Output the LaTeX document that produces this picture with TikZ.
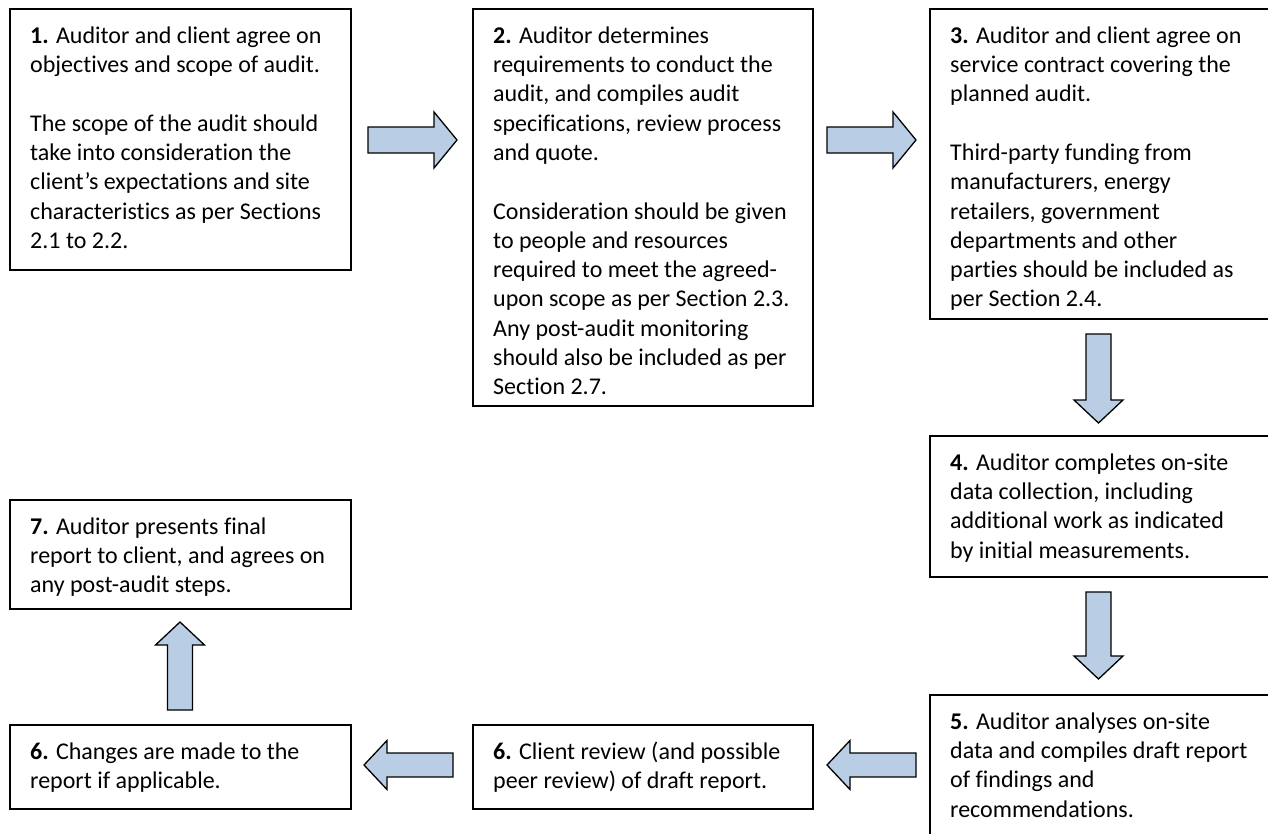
\documentclass[tikz,border=0pt]{standalone}
\usepackage{fontspec}
\setmainfont{Carlito}[Ligatures={NoCommon}]
\definecolor{arrowfill}{HTML}{B9CDE5}
\tikzset{
  box/.style={draw=black, line width=1.5pt, fill=white, inner sep=0pt, anchor=north west},
  txt/.style={anchor=north west, inner sep=0pt, align=left,
    font=\fontsize{24}{29.3}\selectfont},
  blk/.style={draw=black, line width=1.3pt, fill=arrowfill, line join=miter}
}
% x y length rotation headhalf shafthalf
\newcommand{\barr}[6]{%
  \begin{scope}[shift={(#1,#2)},rotate=#4]
    \draw[blk] (0,-#6) -- ({#3-23},-#6) -- ({#3-23},-#5) -- (#3,0) -- ({#3-23},#5) -- ({#3-23},#6) -- (0,#6) -- cycle;
  \end{scope}}
\begin{document}
\begin{tikzpicture}[x=1pt,y=-1pt]
\useasboundingbox (0,0) rectangle (1268,833);
\fill[white] (0,0) rectangle (1268,833);

% boxes
\node[box, minimum width=341pt, minimum height=261pt] (b1) at (9,8) {};
\node[box, minimum width=340pt, minimum height=397pt] (b2) at (472,8) {};
\node[box, minimum width=350pt, minimum height=310pt] (b3) at (929,8) {};
\node[box, minimum width=350pt, minimum height=141pt] (b4) at (929,435) {};
\node[box, minimum width=350pt, minimum height=150pt] (b5) at (929,694) {};
\node[box, minimum width=341pt, minimum height=109pt] (b7) at (9,499) {};
\node[box, minimum width=341pt, minimum height=84pt] (b6a) at (9,724) {};
\node[box, minimum width=340pt, minimum height=84pt] (b6b) at (472,724) {};

% texts
\node[txt] (t1) at ([xshift=21pt,yshift=-14.5pt]b1.north west) {\strut\textbf{1.} Auditor and client agree on\\
objectives and scope of audit.\\[29.3pt]
The scope of the audit should\\
take into consideration the\\
client’s expectations and site\\
characteristics as per Sections\\
2.1 to 2.2.};

\node[txt] (t2) at ([xshift=21pt,yshift=-14.5pt]b2.north west) {\strut\textbf{2.} Auditor determines\\
requirements to conduct the\\
audit, and compiles audit\\
specifications, review process\\
and quote.\\[29.3pt]
Consideration should be given\\
to people and resources\\
required to meet the agreed-\\
upon scope as per Section 2.3.\\
Any post-audit monitoring\\
should also be included as per\\
Section 2.7.};

\node[txt] (t3) at ([xshift=21pt,yshift=-14.5pt]b3.north west) {\strut\textbf{3.} Auditor and client agree on\\
service contract covering the\\
planned audit.\\[29.3pt]
Third-party funding from\\
manufacturers, energy\\
retailers, government\\
departments and other\\
parties should be included as\\
per Section 2.4.};

\node[txt] (t4) at ([xshift=21pt,yshift=-14.5pt]b4.north west) {\strut\textbf{4.} Auditor completes on-site\\
data collection, including\\
additional work as indicated\\
by initial measurements.};

\node[txt] (t5) at ([xshift=21pt,yshift=-14.5pt]b5.north west) {\strut\textbf{5.} Auditor analyses on-site\\
data and compiles draft report\\
of findings and\\
recommendations.};

\node[txt] (t6b) at ([xshift=21pt,yshift=-14.5pt]b6b.north west) {\strut\textbf{6.} Client review (and possible\\
peer review) of draft report.};

\node[txt] (t6a) at ([xshift=21pt,yshift=-14.5pt]b6a.north west) {\strut\textbf{6.} Changes are made to the\\
report if applicable.};

\node[txt] (t7) at ([xshift=21pt,yshift=-14.5pt]b7.north west) {\strut\textbf{7.} Auditor presents final\\
report to client, and agrees on\\
any post-audit steps.};

% block arrows
\barr{368}{140}{89}{0}{28}{13}
\barr{827}{140}{89}{0}{28}{13}
\barr{1098.5}{334}{89}{-90}{24.5}{12.5}
\barr{1098.5}{592}{87}{-90}{24.5}{12.5}
\barr{916}{765}{89}{180}{24.5}{12}
\barr{453}{765}{89}{180}{24.5}{12}
\barr{180}{710}{88}{90}{24.5}{12.5}
\end{tikzpicture}
\end{document}
